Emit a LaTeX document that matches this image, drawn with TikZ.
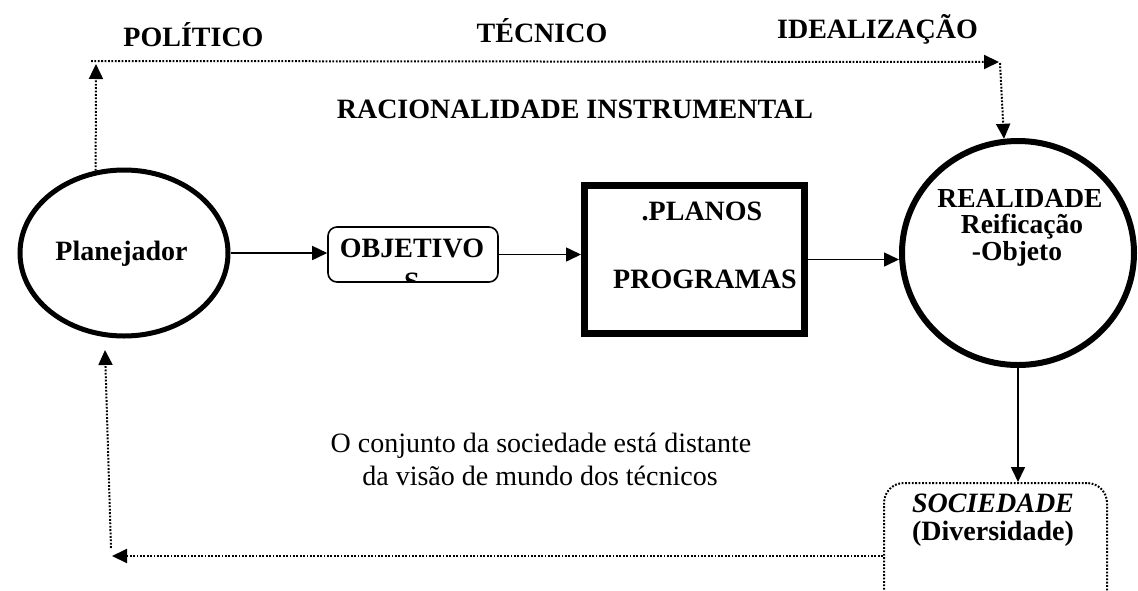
\documentclass[tikz,border=0pt]{standalone}
\usepackage{fontspec}
\setmainfont{Liberation Serif}[BoldFont={Liberation Serif Bold},ItalicFont={Liberation Serif Italic},BoldItalicFont={Liberation Serif Bold Italic}]
\usetikzlibrary{arrows.meta,shapes.geometric,calc}
\begin{document}
\begin{tikzpicture}[x=1pt,y=-1pt,
  bt/.style={font=\fontsize{28}{34}\selectfont\bfseries, inner sep=0pt, anchor=base},
  rt/.style={font=\fontsize{28}{34}\selectfont, inner sep=0pt, anchor=base},
  st/.style={font=\fontsize{27.5}{30}\selectfont\bfseries, inner sep=0pt, anchor=base},
  tip/.style={-{Triangle[length=15pt,width=14pt]}},
  solidarr/.style={tip, line width=1.6pt},
  dotarr/.style={tip, line width=2pt, dash pattern=on 1.8pt off 1.6pt},
  ovalnode/.style={draw, ellipse, inner sep=0pt},
]
\useasboundingbox (0,0) rectangle (1138,590);
\clip (0,0) rectangle (1138,590);
\fill[white] (0,0) rectangle (1138,590);

% top labels
\node[bt] (pol) at (193.5,46) {POLÍTICO};
\node[bt] (tec) at (542,42) {TÉCNICO};
\node[bt] (ide) at (877.5,38) {IDEALIZAÇÃO};
\node[bt] (rac) at (575,118) {RACIONALIDADE INSTRUMENTAL};

% Planejador
\node[ovalnode, line width=5pt, minimum width=208pt, minimum height=166pt] (plan) at (124,253) {};
\node[bt] (plant) at (121.5,260) {Planejador};

% OBJETIVOS
\node[draw, rounded corners=9pt, line width=1.6pt, minimum width=170pt, minimum height=55pt, inner sep=0pt] (obj) at (413,254.5) {};
\begin{scope}
  \clip[rounded corners=9pt] (obj.south west) rectangle (obj.north east);
  \node[bt] (objt1) at (412,257) {OBJETIVO};
  \node[bt] (objt2) at (412,291) {S};
\end{scope}

% PLANOS / PROGRAMAS
\node[draw, line width=7pt, minimum width=220pt, minimum height=148pt, inner sep=0pt] (pl) at (694.5,259.5) {};
\node[bt] (pl1) at (702,220) {.PLANOS};
\node[bt] (pl2) at (705,288) {PROGRAMAS};

% REALIDADE
\node[ovalnode, line width=6pt, minimum width=232pt, minimum height=224pt] (real) at (1018,253) {};
\node[st] (r1) at (1020,207) {REALIDADE};
\node[st] (r2) at (1022,233) {Reificação};
\node[st] (r3) at (1017,260) {-Objeto};

% SOCIEDADE
\node[draw, rounded corners=20pt, line width=2pt, dash pattern=on 1.8pt off 1.6pt, minimum width=223pt, minimum height=146pt, inner sep=0pt] (soc) at (995.5,556) {};
\node[bt, font=\fontsize{28}{34}\selectfont\bfseries\itshape] (s1) at (993,512) {SOCIEDADE};
\node[bt] (s2) at (993,540) {(Diversidade)};

% middle text
\node[rt] (c1) at (541,452) {O conjunto da sociedade está distante};
\node[rt] (c2) at (540,485) {da visão de mundo dos técnicos};

% solid connectors
\draw[solidarr] (plan.east) -- (plan.east -| obj.west);
\draw[solidarr] (obj.east) -- (obj.east -| pl.west);
\draw[solidarr] (pl.east) -- (pl.east -| real.west);
\draw[solidarr] (real.south) -- (real.south |- soc.north);

% dotted connectors (top)
\coordinate (ctl) at (96,64);
\coordinate (ch1) at (91,61);
\coordinate (ch2) at (999,62);
\coordinate (cv1) at (1000,63);
\draw[dotarr] (plan.109) -- (ctl);
\draw[dotarr] (ch1) -- (ch2);
\draw[dotarr] (cv1) -- (real.97);

% dotted connectors (bottom)
\coordinate (cb1) at (112,556);
\coordinate (cb2) at (111,548);
\coordinate (cb3) at (105,350);
\draw[dotarr] (soc.west) -- (cb1);
\draw[dotarr] (cb2) -- (cb3);
\end{tikzpicture}
\end{document}
